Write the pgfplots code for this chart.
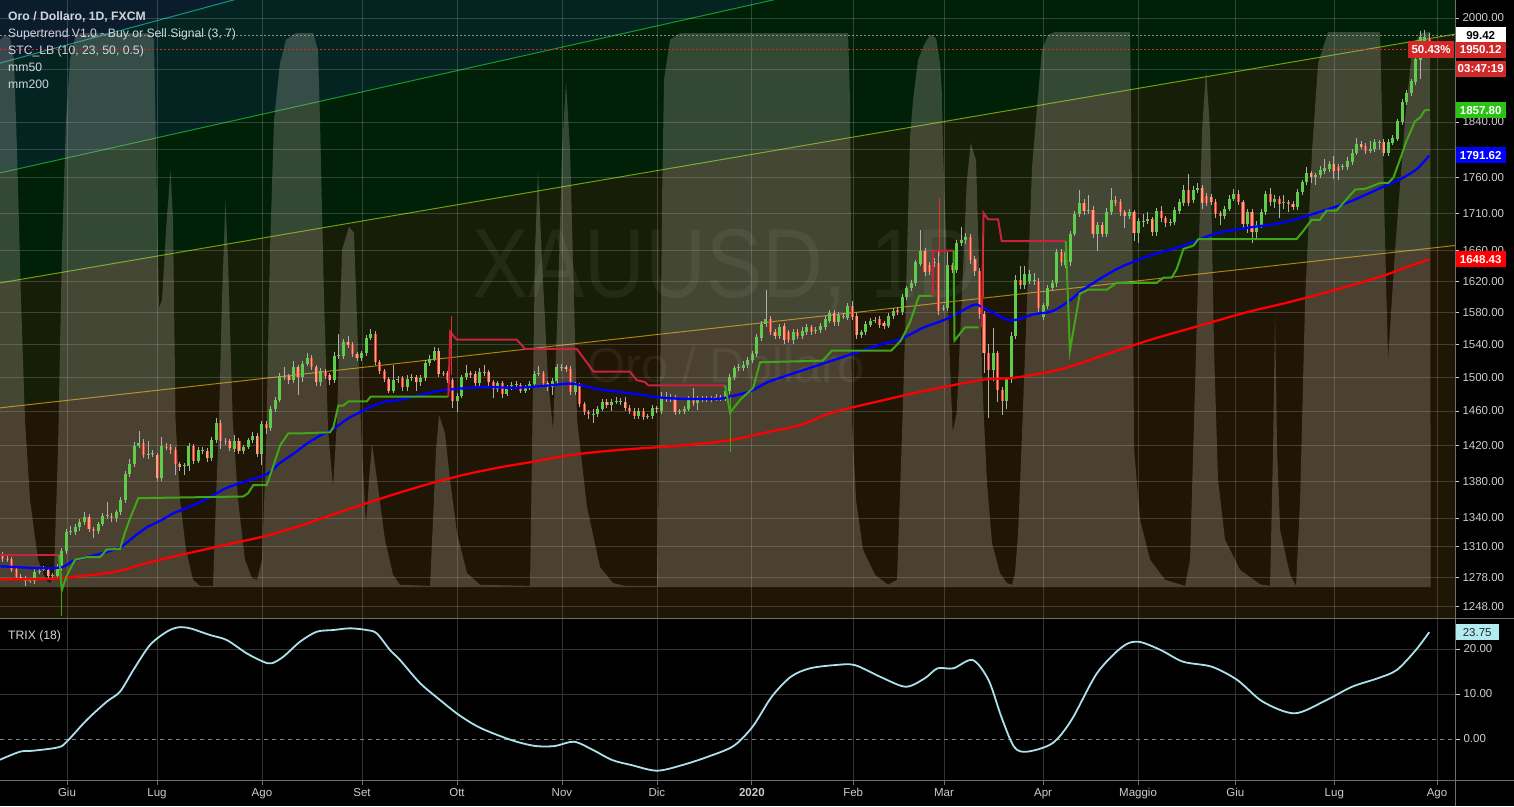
\documentclass[border=0pt]{standalone}
\usepackage{pgfplots}
\pgfplotsset{compat=1.18}
\usepackage{pgfplotstable}
\usepackage{fontspec}
\setmainfont{Liberation Sans}

\definecolor{bgnavy}{RGB}{11,29,44}
\definecolor{bgteal}{RGB}{4,36,34}
\definecolor{bggreen}{RGB}{0,33,8}
\definecolor{bgolive}{RGB}{22,30,7}
\definecolor{bgbrown}{RGB}{31,22,5}
\definecolor{lteal}{RGB}{20,150,130}
\definecolor{lgreen}{RGB}{25,150,45}
\definecolor{lyg}{RGB}{110,160,10}
\definecolor{lorange}{RGB}{175,130,10}
\definecolor{stcfill}{RGB}{200,191,178}
\definecolor{upc}{RGB}{95,205,75}
\definecolor{dnout}{RGB}{225,65,50}
\definecolor{dnin}{RGB}{250,160,130}
\definecolor{wick}{RGB}{175,175,175}
\definecolor{stgreen}{RGB}{65,165,25}
\definecolor{stred}{RGB}{200,35,60}
\definecolor{arred}{RGB}{225,50,40}
\definecolor{trixc}{RGB}{170,225,235}
\definecolor{tickc}{RGB}{205,205,205}
\definecolor{legc}{RGB}{209,212,220}
\definecolor{lred}{RGB}{210,40,40}
\definecolor{lgrn}{RGB}{40,195,20}
\definecolor{lcyan}{RGB}{178,235,242}
\definecolor{sepc}{RGB}{110,110,110}
\definecolor{gridT}{RGB}{50,50,50}

\newcommand{\tlf}{\fontsize{11.5}{13}\selectfont}
\newcommand{\lgf}{\fontsize{12.2}{14}\selectfont}

\pgfplotstableread{
i o h l c
0 1300 1304 1294 1297
1 1297 1300 1294 1296
2 1297 1299 1283 1285.4
3 1286.4 1288 1275 1278
4 1278 1281 1275 1277
5 1277 1279 1269 1273.8
6 1274 1277 1272 1274.8
7 1274 1286 1271 1283.3
8 1283 1287 1281 1284.3
9 1286 1289 1284 1286.8
10 1285.4 1288 1276 1279
11 1279 1282 1277 1279.8
12 1279 1292 1276 1288.5
13 1288.5 1308 1284 1305.2
14 1305 1328 1302 1325.1
15 1325 1331 1322 1326
16 1325 1334 1322 1330.3
17 1330 1339 1326 1335.5
18 1335.5 1347 1332 1340.8
19 1340.8 1344 1325 1328.2
20 1328 1330 1319 1326
21 1326 1336 1323 1333.5
22 1333.5 1345 1331 1341.8
23 1342 1357 1339 1342.8
24 1342 1345 1336 1339.7
25 1339.7 1349 1336 1346
26 1346 1363 1343 1359.6
27 1359.6 1392 1356 1388
28 1388 1405 1385 1399.3
29 1399.3 1424 1396 1419.7
30 1419.7 1437 1417 1423.1
31 1423 1427 1406 1409.5
32 1409.5 1425 1405 1410.3
33 1410.5 1415 1407 1411.3
34 1409.5 1412 1380 1383.4
35 1383.4 1430 1380 1419.7
36 1419 1423 1415 1418.2
37 1418.6 1422 1411 1415.2
38 1415.2 1418 1387 1399.3
39 1399.3 1402 1391 1395.9
40 1397 1400 1387 1397.8
41 1397 1423 1392 1419.7
42 1419.7 1422 1399 1402.7
43 1402.7 1418 1400 1415.2
44 1414 1418 1411 1414.8
45 1414 1417 1402 1406.1
46 1406 1430 1403 1426.5
47 1426.5 1452 1423 1445.8
48 1445.8 1449 1416 1425.4
49 1425.4 1429 1421 1424.6
50 1425.4 1428 1414 1417.4
51 1416.3 1432 1413 1425.4
52 1425.4 1429 1411 1414
53 1414 1421 1411 1418.6
54 1418.6 1429 1416 1426.5
55 1426.5 1436 1423 1431
56 1431 1434 1407 1410.6
57 1410.6 1448 1398 1444.7
58 1444.7 1448 1433 1440.1
59 1440.1 1466 1437 1462.8
60 1462.8 1476 1459 1473
61 1473 1505 1470 1501.2
62 1501 1512 1497 1501.8
63 1501.2 1504 1492 1496.3
64 1496.3 1520 1493 1512.3
65 1512.3 1515 1479 1500
66 1500 1519 1494 1516
67 1516 1529 1513 1523.3
68 1523.3 1527 1509 1512.3
69 1512.3 1515 1490 1493.9
70 1493.9 1511 1490 1507.4
71 1507.4 1510 1498 1501.2
72 1502.5 1505 1491 1496.3
73 1496.3 1531 1493 1525.8
74 1525.8 1553 1522 1526.6
75 1525.8 1547 1522 1543
76 1543 1550 1536 1539.3
77 1540.5 1543 1524 1528.3
78 1528.3 1531 1519 1523.3
79 1523.3 1532 1520 1529.5
80 1529.5 1551 1526 1547.9
81 1547.9 1559 1545 1552.8
82 1552.8 1556 1515 1518.4
83 1518.4 1521 1504 1507.4
84 1507.4 1510 1494 1497.6
85 1497.6 1500 1481 1484
86 1484 1515 1481 1496.3
87 1497 1501 1493 1497.8
88 1498.8 1502 1484 1487.8
89 1487.8 1503 1483 1497.6
90 1499 1504 1496 1500
91 1500 1503 1484 1493.9
92 1493.9 1503 1490 1498.8
93 1498.8 1521 1495 1517.2
94 1517.2 1527 1514 1522.1
95 1522.1 1537 1519 1531.9
96 1531.9 1535 1500 1503.7
97 1505 1508 1501 1504.2
98 1504.9 1508 1493 1496.3
99 1496.3 1499 1463 1471.9
100 1471.9 1481 1459 1477.9
101 1477.9 1503 1475 1500
102 1500 1515 1497 1504.9
103 1504.9 1508 1499 1502.5
104 1503.7 1507 1489 1492.6
105 1492.6 1511 1489 1506.2
106 1506 1515 1502 1506.8
107 1506.2 1509 1490 1493.9
108 1493.9 1497 1475 1485.3
109 1485.3 1496 1482 1492.6
110 1492.6 1496 1475 1480.4
111 1480.4 1491 1477 1487.8
112 1489 1494 1485 1490.2
113 1491 1495 1488 1491.8
114 1490.2 1493 1481 1484
115 1484 1491 1481 1487.8
116 1487.8 1495 1485 1491.4
117 1491.4 1507 1488 1503.7
118 1504 1514 1501 1504.9
119 1504.9 1508 1489 1492.6
120 1492.6 1495 1483 1487.8
121 1487.8 1499 1479 1495.1
122 1495.1 1516 1492 1512.3
123 1512 1516 1508 1512.8
124 1512.3 1515 1506 1509.8
125 1509.8 1513 1479 1482.8
126 1482.8 1494 1479 1490.2
127 1490.2 1493 1465 1468.5
128 1468.5 1471 1455 1458.3
129 1458.3 1461 1450 1456
130 1456 1462 1446 1456.8
131 1456 1466 1453 1462.8
132 1462.8 1474 1460 1470.7
133 1470.7 1474 1464 1467.3
134 1467.3 1474 1460 1470.7
135 1471.2 1476 1468 1472
136 1470.7 1475 1467 1471.9
137 1470.7 1476 1460 1463.9
138 1463.9 1467 1457 1460.5
139 1460.5 1463 1450 1453.7
140 1453.7 1463 1450 1460.5
141 1460.5 1463 1449 1452.6
142 1453.7 1456 1451 1454.5
143 1453.7 1467 1450 1463.9
144 1463.9 1466 1458 1461.7
145 1460.5 1482 1457 1476.5
146 1476.5 1482 1471 1474.2
147 1475.3 1480 1470 1476.1
148 1475.3 1479 1455 1458.3
149 1459.4 1462 1456 1460.2
150 1459.4 1466 1456 1462.8
151 1462.8 1477 1460 1474.2
152 1474.2 1487 1466 1469.6
153 1469.6 1477 1461 1474.2
154 1474 1478 1470 1474.8
155 1474.8 1478 1470 1474
156 1474.2 1478 1470 1475
157 1474.2 1480 1472 1476.5
158 1476.5 1479 1472 1475.3
159 1475.3 1487 1472 1484
160 1484 1504 1480 1500
161 1500 1514 1497 1511
162 1511 1516 1507 1511.8
163 1511 1519 1508 1514.7
164 1514.7 1524 1511 1520.9
165 1520.9 1532 1517 1528.3
166 1528.3 1553 1525 1549.1
167 1547.9 1569 1544 1565.1
168 1565.1 1608 1562 1571.2
169 1571.2 1575 1551 1555.3
170 1555.3 1559 1546 1550.4
171 1550.4 1565 1546 1561.4
172 1562.6 1566 1541 1545.5
173 1555.3 1558 1542 1545.5
174 1545.5 1559 1541 1555.3
175 1555.3 1559 1547 1550.4
176 1550.7 1561 1547 1556.9
177 1555.6 1565 1552 1561
178 1561 1564 1551 1555.6
179 1557 1561 1553 1557.8
180 1558.1 1567 1554 1563
181 1561 1575 1558 1571.2
182 1569.2 1583 1566 1579.5
183 1579.5 1583 1563 1567.2
184 1567.2 1580 1563 1576.1
185 1575 1579 1571 1575.8
186 1573.3 1592 1570 1587.6
187 1588.4 1594 1570 1574.1
188 1575.3 1579 1546 1552
189 1552 1558 1548 1554.9
190 1554.9 1569 1551 1565.1
191 1564.2 1573 1561 1569.2
192 1570 1574 1566 1570.8
193 1571.2 1575 1560 1564.2
194 1566.3 1569 1559 1563
195 1563 1579 1560 1575.3
196 1575.3 1586 1572 1582.3
197 1583.5 1587 1577 1580.2
198 1580.2 1603 1577 1599.4
199 1599.4 1614 1596 1610.4
200 1610.4 1622 1607 1618
201 1618 1648 1614 1644.6
202 1643 1688 1640 1660
203 1660 1664 1627 1632.1
204 1641 1645 1628 1632.1
205 1643.7 1650 1638 1644.5
206 1643.7 1660 1577 1581.4
207 1585 1589 1581 1585.8
208 1585.6 1658 1581 1641
209 1641 1644 1630 1634.7
210 1634.7 1674 1631 1669.9
211 1669.9 1692 1666 1674.3
212 1673.7 1683 1669 1678.7
213 1678.7 1682 1643 1647.7
214 1649 1653 1627 1633.5
215 1633.5 1637 1572 1577.4
216 1577.4 1581 1505 1529.5
217 1529.5 1540 1452 1509
218 1509 1560 1495 1529.5
219 1529.5 1532 1470 1484.4
220 1484.4 1488 1455 1471.1
221 1471.1 1500 1462 1497.6
222 1497.6 1555 1493 1550.7
223 1550.7 1628 1546 1621.5
224 1621.5 1640 1610 1614.4
225 1614.4 1640 1610 1629.1
226 1620.2 1635 1616 1629.1
227 1620 1630 1615 1620.8
228 1620.2 1624 1580 1585.6
229 1574.5 1592 1570 1589.7
230 1588.4 1615 1584 1611.3
231 1611.3 1622 1608 1618
232 1617.1 1662 1612 1657.9
233 1657.9 1662 1640 1644.6
234 1641 1664 1637 1657.9
235 1644.6 1686 1640 1682.2
236 1682.2 1713 1679 1708.9
237 1708.9 1742 1705 1724.4
238 1724.4 1730 1708 1713.2
239 1714.5 1735 1710 1715.2
240 1715.5 1720 1677 1682.2
241 1682.2 1698 1660 1694.2
242 1694.2 1698 1678 1682.2
243 1682.2 1717 1678 1712.8
244 1711.5 1745 1708 1728.8
245 1728.8 1734 1720 1724.8
246 1726.1 1730 1707 1711.5
247 1711.5 1715 1690 1706.2
248 1706.2 1716 1702 1711.5
249 1711.5 1715 1673 1683.6
250 1683.6 1704 1670 1699.5
251 1699.5 1709 1692 1700.2
252 1699.5 1712 1696 1702.2
253 1702.2 1706 1680 1684.9
254 1684.9 1718 1680 1714.2
255 1714.2 1720 1699 1703.5
256 1703.5 1707 1692 1696.9
257 1698 1702 1693 1698.8
258 1698.2 1719 1694 1715.5
259 1714.2 1730 1710 1726.1
260 1724.8 1750 1721 1743.2
261 1743.2 1765 1720 1724.8
262 1728.8 1748 1724 1743.2
263 1743.2 1752 1739 1746.1
264 1746.1 1750 1716 1724.8
265 1734.6 1738 1720 1724.8
266 1733.1 1737 1722 1726.1
267 1726.1 1730 1704 1708.9
268 1710.2 1713 1695 1706.2
269 1706.2 1720 1702 1716.8
270 1716.8 1735 1713 1730.2
271 1730.2 1744 1727 1736.9
272 1736.9 1742 1722 1726.1
273 1726.1 1729 1690 1695.5
274 1695.5 1716 1684 1712.8
275 1712.8 1716 1670 1684.9
276 1684.9 1700 1675 1694.2
277 1694.2 1716 1690 1712.8
278 1712.8 1741 1708 1736.9
279 1736.9 1745 1721 1726.1
280 1726.1 1736 1718 1730.2
281 1730.2 1734 1704 1723.5
282 1724.8 1735 1716 1725.5
283 1726.1 1729 1712 1723.5
284 1723.5 1727 1715 1719.5
285 1719.5 1744 1715 1740.3
286 1740.3 1757 1736 1753.3
287 1753.3 1775 1749 1766.3
288 1766.3 1770 1752 1760.5
289 1760.5 1767 1750 1763.4
290 1763.4 1777 1759 1770.6
291 1769.1 1786 1765 1773.5
292 1772 1783 1768 1779.2
293 1779.2 1791 1758 1769.1
294 1774.9 1779 1757 1769.1
295 1775 1779 1771 1775.8
296 1774.9 1789 1771 1783.5
297 1782 1800 1778 1795.1
298 1795.1 1817 1792 1808.1
299 1808.1 1812 1800 1803.8
300 1805.2 1809 1794 1798
301 1798 1812 1795 1800.9
302 1800.9 1815 1797 1810.9
303 1809.5 1814 1800 1810.3
304 1810.9 1815 1790 1795.1
305 1795.1 1815 1791 1810.9
306 1809.5 1821 1806 1816.7
307 1815.3 1845 1812 1841.2
308 1840.3 1874 1836 1870
309 1870 1888 1866 1883.8
310 1883.8 1905 1879 1901
311 1899.4 1940 1895 1935.3
312 1933.8 1979 1904 1969.7
313 1962 1981 1955 1969.7
314 1968 1976 1945 1950.12
}\candles

\pgfplotstableread{
i v
-0.594 98.6
0.51 99.5
1.61 98.9
2.49 95.0
3.15 78.7
4.03 51.7
4.91 30.1
6.01 15.7
7.77 4.9
9.53 1.3
10.41 0.7
11.29 2.2
12.17 24.7
13.05 60.7
13.93 84.1
14.81 95.0
15.92 98.9
17.02 99.8
32.42 99.8
33.30 98.6
33.96 69.7
34.40 50.3
35.07 51.7
35.95 64.3
36.94 75.1
37.49 66.1
38.04 30.1
39.03 15.7
40.35 6.7
41.89 1.3
43.43 0.2
46.29 0.2
46.95 15.7
47.61 30.1
48.27 51.7
49.02 69.7
49.59 58.9
50.63 30.1
51.80 15.7
53.33 4.9
54.88 1.6
55.98 1.3
57.08 4.9
57.96 24.7
58.84 60.7
59.72 84.1
61.04 94.4
62.36 98.6
64.56 99.8
68.30 99.8
69.40 96.8
69.84 84.1
70.73 51.7
71.61 28.3
72.71 18.0
73.59 30.1
74.69 60.7
76.23 64.9
77.33 63.8
78.21 42.7
79.09 24.7
79.97 11.2
80.63 19.3
81.29 25.9
82.39 19.3
84.15 8.5
85.91 2.2
87.45 0.4
94.06 0.2
94.72 12.1
95.38 24.7
96.04 31.0
97.36 27.7
98.46 19.3
100.0 9.7
102.2 2.5
105.06 0.4
116.07 0.2
116.51 24.7
117.17 60.7
117.83 75.1
118.71 58.9
120.03 37.3
121.13 28.3
122.23 51.7
123.11 78.7
123.99 91.0
124.88 78.7
125.76 51.7
126.42 30.1
128.61 14.4
131.48 3.6
134.34 0.7
136.98 0.2
144.02 0.2
144.68 33.7
145.13 69.7
145.57 91.4
146.89 98.6
149.09 99.8
186.07 99.8
186.51 87.7
186.95 30.1
187.83 15.7
189.37 6.7
192.01 2.2
194.87 0.4
196.85 1.3
197.96 27.7
198.62 45.8
199.72 81.1
200.38 87.7
201.48 95.0
202.80 97.7
204.12 99.5
205.44 98.9
206.32 94.4
206.69 89.5
206.98 78.7
207.86 57.7
208.52 39.6
209.11 27.9
209.99 31.4
211.09 51.7
212.19 72.8
213.07 80.0
214.24 76.9
214.68 64.3
215.12 51.7
215.78 33.7
216.66 18.7
217.76 7.9
219.52 2.5
221.06 0.7
222.17 0.4
222.83 2.5
223.49 9.7
224.37 27.7
225.47 51.7
226.57 75.7
227.67 86.5
228.77 96.8
230.09 99.5
231.63 100
248.15 100
248.59 69.7
249.03 24.7
250.35 12.1
252.55 4.9
255.85 1.3
260.25 0.2
261.35 4.9
262.67 42.7
263.99 82.3
264.87 93.2
265.75 82.3
266.63 42.7
267.51 19.3
269.05 8.5
272.35 3.1
276.76 0.5
278.96 0.2
279.62 24.7
280.06 49.4
280.50 24.7
281.16 10.3
283.36 2.2
284.68 0.2
285.57 15.7
286.67 51.7
288.21 78.7
289.53 94.4
291.73 100
303.17 100
304.05 69.7
304.93 40.9
306.47 60.7
308.67 84.1
310.21 96.8
311.97 99.8
314.2 100
314.3 0
}\stc

\pgfplotstableread{
i v
-0.6 -4.6
3.81 -2.82
6.74 -2.60
12.24 -1.84
14.09 -0.60
18.49 4.22
22.89 8.29
25.82 10.51
28.75 15.33
32.42 20.89
36.10 23.84
38.65 24.82
41.23 24.60
45.63 23.11
49.31 22.0
53.71 19.04
57.36 17.18
59.21 16.82
61.77 18.29
65.44 21.62
69.12 23.84
72.77 24.22
76.45 24.6
80.12 24.22
82.32 23.49
85.25 19.78
87.45 17.56
91.85 12.44
96.25 8.67
100.44 5.33
104.62 2.73
108.89 0.89
113.10 -0.60
117.33 -1.56
121.53 -1.56
125.76 -0.60
129.94 -2.44
134.16 -4.67
138.37 -5.78
144.0 -7.04
149.62 -5.78
155.23 -3.93
160.84 -1.56
165.05 2.73
169.27 9.40
173.48 13.84
177.68 15.71
183.29 16.44
187.52 16.44
193.13 13.84
198.74 11.62
202.95 13.49
205.76 15.71
209.26 15.71
213.49 17.56
216.99 13.11
219.8 4.96
222.6 -1.71
225.42 -2.82
231.03 -0.96
235.24 4.22
240.85 14.6
246.46 20.51
249.98 21.62
254.89 19.78
259.8 17.18
266.12 16.07
271.75 13.11
277.37 8.29
284.39 5.71
291.39 8.67
297.0 11.62
302.64 13.49
306.84 15.33
311.05 19.78
314.0 23.75
}\trix

\pgfplotsset{
  panel/.style={scale only axis, width=1455pt, xmin=-0.594, xmax=319.67, clip mode=individual},
}
\tikzset{
  lbl/.style={anchor=west, minimum width=50pt, minimum height=16pt, inner sep=0pt, font=\bfseries\tlf, text=white, xshift=0.5pt},
}

\begin{document}
\begin{tikzpicture}
\fill[black] (0pt,0pt) rectangle (1514pt,-806pt);
\useasboundingbox (0pt,0pt) rectangle (1514pt,-806pt);

% ---------- background axis (channels, grid, price scale)
\begin{axis}[panel, at={(0pt,0pt)}, anchor=north west, height=618pt,
  ymode=log, ymin=1237, ymax=2029,
  axis background/.style={fill=bgnavy},
  axis line style={draw=none},
  xtick=\empty, yminorticks=false,
  ytick={1248,1278,1310,1340,1380,1420,1460,1500,1540,1580,1620,1660,1710,1760,1840,2000},
  yticklabels={1248.00,1278.00,1310.00,1340.00,1380.00,1420.00,1460.00,1500.00,1540.00,1580.00,1620.00,1660.00,1710.00,1760.00,1840.00,2000.00},
  ytick pos=right, yticklabel pos=right, tick align=outside, major tick length=4pt,
  y tick style={draw=tickc, line width=0.8pt},
  yticklabel style={font=\tlf, text=tickc},
]
\addplot[draw=none, fill=bgteal] coordinates {(-0.594,1929.2) (319.67,2642.6) (319.67,1237) (-0.594,1237)} -- cycle;
\addplot[draw=none, fill=bggreen] coordinates {(-0.594,1766.6) (319.67,2292.6) (319.67,1237) (-0.594,1237)} -- cycle;
\addplot[draw=none, fill=bgolive] coordinates {(-0.594,1617.6) (319.67,1974.2) (319.67,1237) (-0.594,1237)} -- cycle;
\addplot[draw=none, fill=bgbrown] coordinates {(-0.594,1463.6) (319.67,1666.8) (319.67,1237) (-0.594,1237)} -- cycle;
\addplot[lteal, line width=1pt] coordinates {(-0.594,1929.2) (319.67,2642.6)};
\addplot[lgreen, line width=1pt] coordinates {(-0.594,1766.6) (319.67,2292.6)};
\addplot[lyg, line width=1pt] coordinates {(-0.594,1617.6) (319.67,1974.2)};
\addplot[lorange, line width=1pt] coordinates {(-0.594,1463.6) (319.67,1666.8)};
\pgfplotsinvokeforeach{14.15,33.97,57.07,79.09,100.0,123.1,144.0,164.9,187.2,207.2,229.0,249.9,271.3,293.1,315.7}{
  \addplot[white, opacity=0.17, line width=0.8pt] coordinates {(#1,1237) (#1,2029)};
}
\pgfplotsinvokeforeach{1248,1278,1310,1340,1380,1420,1460,1500,1540,1580,1620,1660,1710,1760,1800,1840,1920,2000}{
  \addplot[white, opacity=0.17, line width=0.8pt] coordinates {(-0.594,#1) (319.67,#1)};
}
\end{axis}

% ---------- STC overlay
\begin{axis}[panel, at={(0pt,0pt)}, anchor=north west, height=618pt,
  ymin=-5.586, ymax=105.766, axis lines=none, ticks=none]
\addplot[draw=none, fill=stcfill, fill opacity=0.26] table[x=i,y=v]{\stc} \closedcycle;
\addplot[tickc!70!black, dash pattern=on 2pt off 2pt, line width=0.8pt] coordinates {(-0.594,99.42) (319.67,99.42)};
\node[lbl, fill=white, text=black] at (axis cs:319.67,99.42) {99.42};
\end{axis}

% ---------- watermark
\node[anchor=base west, inner sep=0pt, text=white, text opacity=0.06, font=\fontsize{98}{98}\selectfont, xscale=0.86] at (472pt,-297pt) {XAUUSD, 1D};
\node[anchor=base west, inner sep=0pt, text=white, text opacity=0.06, font=\fontsize{49}{49}\selectfont] at (587pt,-382pt) {Oro / Dollaro};

% ---------- price axis (candles and indicators)
\begin{axis}[panel, at={(0pt,0pt)}, anchor=north west, height=618pt,
  ymode=log, ymin=1237, ymax=2029, axis lines=none, ticks=none]
% wicks
\addplot[draw=none, mark=none,
  error bars/y dir=plus, error bars/y explicit, error bars/error mark=none,
  error bars/error bar style={draw=wick, line width=0.9pt}]
  table[x=i, y=l, y error expr={\thisrow{h}-\thisrow{l}}] {\candles};
% up bodies
\addplot[draw=none, mark=none,
  error bars/y dir=plus, error bars/y explicit, error bars/error mark=none,
  error bars/error bar style={draw=upc, line width=3pt}]
  table[x=i, y expr={\thisrow{c}>=\thisrow{o} ? \thisrow{o} : nan}, y error expr={\thisrow{c}-\thisrow{o}}] {\candles};
% down bodies
\addplot[draw=none, mark=none,
  error bars/y dir=plus, error bars/y explicit, error bars/error mark=none,
  error bars/error bar style={draw=dnout, line width=3.2pt}]
  table[x=i, y expr={\thisrow{c}<\thisrow{o} ? \thisrow{c} : nan}, y error expr={\thisrow{o}-\thisrow{c}}] {\candles};
\addplot[draw=none, mark=none,
  error bars/y dir=plus, error bars/y explicit, error bars/error mark=none,
  error bars/error bar style={draw=dnin, line width=1.4pt}]
  table[x=i, y expr={\thisrow{c}<\thisrow{o} ? \thisrow{c} : nan}, y error expr={\thisrow{o}-\thisrow{c}}] {\candles};

% mm200
\addplot[red, line width=2.3pt, smooth] coordinates {
(-0.5,1275.9) (6.74,1275.9) (11.89,1276.6) (17.74,1279.4) (21.42,1281.2) (25.82,1284.6) (30.22,1290.6) (36.10,1297.6) (43.43,1305.5) (50.76,1313.3) (58.11,1321.2) (65.44,1331.7) (72.77,1343.9) (80.12,1356.0) (87.45,1367.7) (94.78,1378.5) (102.13,1387.9) (109.46,1395.5) (116.80,1401.9) (124.15,1408.7) (131.48,1413.2) (138.81,1416.3) (146.16,1418.9) (153.49,1422.0) (160.82,1426.8) (168.17,1435.2) (175.50,1443.5) (182.50,1457.9) (192.60,1471.1) (202.73,1483.4) (212.83,1494.2) (216.88,1497.6) (222.94,1499.6) (233.04,1509.8) (243.15,1528.3) (253.25,1546.7) (263.35,1563.0) (273.46,1579.5) (283.58,1593.6) (293.69,1609.1) (303.79,1626.8) (308.85,1638.0) (314,1648.43)};
% mm50
\addplot[blue, line width=2.3pt, smooth] coordinates {
(-0.5,1289.2) (3.81,1288.2) (8.21,1287.1) (12.99,1288.2) (15.54,1295.1) (18.49,1298.6) (21.42,1302.1) (24.35,1306.3) (26.19,1309.7) (28.75,1319.5) (31.70,1330.0) (34.62,1336.9) (37.55,1345.0) (40.50,1350.9) (44.90,1360.6) (49.31,1372.8) (53.71,1380.3) (58.11,1387.9) (61.04,1400.4) (63.97,1410.6) (66.92,1422.0) (69.84,1431.4) (72.77,1439.0) (75.72,1450.3) (78.65,1458.6) (81.58,1466.2) (84.53,1471.1) (87.45,1473.0) (94.78,1482.3) (98.46,1485.3) (105.79,1488.1) (113.14,1487.4) (120.47,1490.2) (124.15,1492.3) (126.35,1491.4) (131.48,1485.3) (138.81,1480.4) (144.68,1475.8) (149.81,1474.2) (157.16,1474.2) (159.72,1476.3) (164.49,1483.2) (168.16,1493.5) (172.40,1501.6) (182.50,1520.0) (192.60,1538.4) (197.66,1546.7) (202.73,1561.0) (206.75,1569.2) (209.79,1577.4) (213.84,1589.7) (215.85,1585.6) (220.91,1571.2) (222.94,1570.4) (226.96,1577.4) (231.02,1581.4) (235.06,1595.8) (237.86,1609.1) (245.21,1635.7) (252.54,1653.4) (259.87,1666.7) (267.21,1683.2) (274.55,1691.2) (281.88,1697.9) (289.23,1711.1) (296.56,1726.5) (303.89,1747.2) (307.57,1757.6) (311.24,1772.0) (314,1791.62)};

% supertrend
\addplot[stred, line width=2pt] coordinates {(-0.5,1301) (12.4,1301)};
\addplot[stgreen, line width=2pt] coordinates {(12.4,1301) (13.0,1264.7) (14.09,1279.4) (15.91,1296.1) (18.49,1298.6) (21.42,1298.6) (22.89,1306.6) (25.82,1307.3) (26.92,1324.8) (28.02,1339.4) (29.85,1361.5) (52.96,1363.3) (54.06,1367.1) (55.16,1375.8) (58.11,1375.8) (59.21,1391.7) (61.04,1420.0) (62.87,1434.1) (66.17,1434.1) (72.05,1435.2) (72.77,1440.9) (73.87,1466.2) (74.97,1466.2) (76.07,1471.1) (80.12,1471.1) (81.0,1476.9) (98.1,1476.9)};
\addplot[stred, line width=2pt] coordinates {(98.1,1476.9) (98.5,1555.3) (99.93,1545.8) (113.14,1545.8) (114.97,1534.4) (126.35,1534.4) (128.55,1518.1) (130.0,1506.7) (138.08,1506.7) (139.55,1496.4) (141.38,1494.3) (142.11,1490.2) (159.0,1490.2)};
\addplot[stgreen, line width=2pt] coordinates {(159.0,1490.2) (160.1,1457.9) (162.3,1473.0) (165.2,1487.4) (166.7,1518.1) (180.5,1520.0) (182.5,1532.3) (195.6,1532.3) (197.7,1544.7) (199.7,1567.2) (201.7,1601.1) (204.7,1601.1)};
\addplot[stred, line width=2pt] coordinates {(204.7,1601.1) (204.8,1660.0) (209.3,1660.0)};
\addplot[stgreen, line width=2pt] coordinates {(209.3,1660.0) (209.5,1544.7) (211.8,1561.2) (214.8,1561.2)};
\addplot[stred, line width=2pt] coordinates {(215.5,1561.2) (215.9,1711.1) (216.9,1702.2) (219.1,1702.2) (219.9,1672.5) (234.0,1672.5)};
\addplot[stgreen, line width=2pt] coordinates {(234.0,1672.5) (234.9,1532.3) (237.1,1603.9) (239.1,1609.1) (243.1,1609.1) (245.2,1617.7) (254.0,1617.7) (255.5,1624.3) (257.3,1624.3) (258.4,1635.7) (259.9,1662.3) (262.1,1666.7) (263.2,1675.6) (284.8,1675.6) (286.3,1686.6) (288.1,1701.3) (289.9,1701.3) (291.4,1714.2) (293.6,1714.2) (297.7,1743.2) (299.9,1744.2) (301.0,1746.8) (303.2,1752.6) (305.0,1752.6) (306.1,1759.8) (307.6,1786.4) (309.0,1812.8) (310.9,1841.7) (312.0,1846.6) (313.0,1857.5) (314.1,1857.8)};
% signal arrows
\addplot[stgreen, line width=1pt] coordinates {(13.0,1282) (13.0,1238.7)};
\addplot[arred, line width=1pt] coordinates {(98.8,1575) (98.8,1502.5)};
\addplot[stgreen, line width=1pt] coordinates {(160.1,1476.5) (160.1,1412.9)};
\addplot[arred, line width=1pt] coordinates {(206.1,1731.7) (206.1,1653)};
\addplot[arred, line width=1pt] coordinates {(215.9,1678) (215.9,1600)};
% last price line
\addplot[lred, dash pattern=on 2pt off 2pt, line width=0.8pt] coordinates {(-0.594,1950.12) (319.67,1950.12)};
% price labels
\node[lbl, fill=lred] at (axis cs:319.67,1950.12) {1950.12};
\node[lbl, fill=lred] at (axis cs:319.67,1920) {03:47:19};
\node[anchor=east, fill=lred, text=white, font=\bfseries\tlf, minimum width=46pt, minimum height=17pt, inner sep=0pt] at (axis cs:319.5,1950.12) {50.43\%};
\node[lbl, fill=lgrn] at (axis cs:319.67,1857.8) {1857.80};
\node[lbl, fill=blue] at (axis cs:319.67,1791.62) {1791.62};
\node[lbl, fill=red] at (axis cs:319.67,1648.43) {1648.43};
\end{axis}

% ---------- TRIX panel
\begin{axis}[panel, at={(0pt,-619pt)}, anchor=north west, height=161pt,
  ymin=-9.11, ymax=26.67,
  axis background/.style={fill=black},
  axis line style={draw=none},
  xtick={14.15,33.97,57.07,79.09,100.0,123.1,144.0,164.9,187.2,207.2,229.0,249.9,271.3,293.1,315.7},
  xticklabels={Giu,Lug,Ago,Set,Ott,Nov,Dic,\textbf{2020},Feb,Mar,Apr,Maggio,Giu,Lug,Ago},
  xtick pos=bottom, ytick={0,10,20}, yticklabels={0.00,10.00,20.00},
  ytick pos=right, yticklabel pos=right, tick align=outside, major tick length=5pt,
  x tick style={draw=sepc, line width=0.8pt}, y tick style={draw=tickc, line width=0.8pt},
  ticklabel style={font=\tlf, text=tickc},
  xmajorgrids, major grid style={draw=gridT, line width=0.8pt},
]
\addplot[gridT, line width=0.8pt] coordinates {(-0.594,10) (319.67,10)};
\addplot[gridT, line width=0.8pt] coordinates {(-0.594,20) (319.67,20)};
\addplot[gray, dash pattern=on 4pt off 4pt, line width=0.8pt] coordinates {(-0.594,0) (319.67,0)};
\addplot[trixc, line width=1.8pt, smooth] table[x=i,y=v]{\trix};
\node[anchor=west, fill=lcyan, text=black!85, font=\tlf, minimum width=44pt, minimum height=16pt, inner sep=0pt] at (axis cs:319.67,23.75) {23.75};
\end{axis}

% frame lines
\draw[sepc, line width=1pt] (0pt,-618.5pt) -- (1514pt,-618.5pt);
\draw[sepc, line width=1pt] (0pt,-780.5pt) -- (1514pt,-780.5pt);
\draw[sepc, line width=1pt] (1455pt,0pt) -- (1455pt,-806pt);

% legends
\node[anchor=base west, inner sep=0pt, text=legc, font=\bfseries\lgf] at (8pt,-20pt) {Oro / Dollaro, 1D, FXCM};
\node[anchor=base west, inner sep=0pt, text=legc, font=\lgf] at (8pt,-37pt) {Supertrend V1.0 - Buy or Sell Signal (3, 7)};
\node[anchor=base west, inner sep=0pt, text=legc, font=\lgf] at (8pt,-54pt) {STC\_LB (10, 23, 50, 0.5)};
\node[anchor=base west, inner sep=0pt, text=legc, font=\lgf] at (8pt,-71pt) {mm50};
\node[anchor=base west, inner sep=0pt, text=legc, font=\lgf] at (8pt,-88pt) {mm200};
\node[anchor=base west, inner sep=0pt, text=legc, font=\lgf] at (8pt,-639pt) {TRIX (18)};
\end{tikzpicture}
\end{document}
